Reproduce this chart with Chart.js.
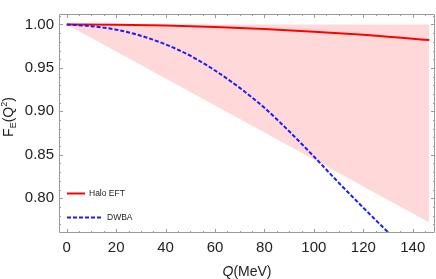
<!DOCTYPE html>
<html lang="en">
<head>
    <title>Form factor</title>
    <script src="https://cdn.jsdelivr.net/npm/chart.js"></script>
    <style>
        html, body { margin: 0; padding: 0; background: #fff; }
        #wrap { width: 436px; height: 279px; }
    </style>
</head>
<body>
<div id="wrap"><canvas id="ffChart"></canvas></div>
<script>
// values
const haloQ = [0, 20, 40, 60, 80, 100, 120, 130, 140, 146.7];
const haloF = [1.000, 0.9997, 0.9987, 0.997, 0.9946, 0.9916, 0.988, 0.9858, 0.9835, 0.982];

const dwbaQ = [0, 10, 20, 30, 40, 50, 60, 70, 80, 90, 100, 110, 120, 130, 133];
const dwbaF = [1.000, 0.998, 0.994, 0.987, 0.977, 0.964, 0.947, 0.927, 0.904, 0.877, 0.848, 0.818, 0.789, 0.761, 0.753];

const bandQ = [0, 146.7];
const bandUpper = [1.0, 1.0];
const bandLower = [1.0, 0.772];

const xTicks = [0, 20, 40, 60, 80, 100, 120, 140];
const yTicks = [0.80, 0.85, 0.90, 0.95, 1.00];

const pts = (xs, ys) => xs.map((x, i) => ({ x: x, y: ys[i] }));

// frame with major + minor ticks on all four sides, plus axis titles and legend
const framePlugin = {
    id: 'frame',
    afterDatasetsDraw(chart) {
        const ctx = chart.ctx;
        const a = chart.chartArea;
        const xs = chart.scales.x, ys = chart.scales.y;
        ctx.save();
        ctx.strokeStyle = '#9a9a9a';
        ctx.lineWidth = 1;
        ctx.beginPath();
        ctx.rect(a.left + 0.5, a.top + 0.5, a.right - a.left - 1, a.bottom - a.top - 1);
        ctx.stroke();
        ctx.beginPath();
        for (let v = 0; v <= 145; v += 5) {
            const px = Math.round(xs.getPixelForValue(v)) + 0.5;
            const len = v % 20 === 0 ? 4 : 2;
            ctx.moveTo(px, a.bottom); ctx.lineTo(px, a.bottom - len);
            ctx.moveTo(px, a.top); ctx.lineTo(px, a.top + len);
        }
        for (let k = 77; k <= 101; k++) {
            const py = Math.round(ys.getPixelForValue(k / 100)) + 0.5;
            const len = k % 5 === 0 ? 4 : 2;
            ctx.moveTo(a.left, py); ctx.lineTo(a.left + len, py);
            ctx.moveTo(a.right, py); ctx.lineTo(a.right - len, py);
        }
        ctx.stroke();

        // axis titles
        ctx.fillStyle = '#222';
        ctx.textBaseline = 'alphabetic';
        ctx.font = 'italic 14px "Liberation Sans", Arial, sans-serif';
        const qW = ctx.measureText('Q').width;
        ctx.font = '14px "Liberation Sans", Arial, sans-serif';
        const restW = ctx.measureText('(MeV)').width;
        let x0 = 247 - (qW + restW) / 2;
        ctx.font = 'italic 14px "Liberation Sans", Arial, sans-serif';
        ctx.fillText('Q', x0, 276);
        ctx.font = '14px "Liberation Sans", Arial, sans-serif';
        ctx.fillText('(MeV)', x0 + qW, 276);

        ctx.save();
        ctx.translate(13, 117);
        ctx.rotate(-Math.PI / 2);
        const parts = [
            ['F', 14, 0], ['E', 9, 3], ['(Q', 14, 0], ['2', 9, -6], [')', 14, 0]
        ];
        let total = 0;
        parts.forEach(p => { ctx.font = p[1] + 'px "Liberation Sans", Arial, sans-serif'; total += ctx.measureText(p[0]).width; });
        let cx = -total / 2;
        parts.forEach(p => {
            ctx.font = p[1] + 'px "Liberation Sans", Arial, sans-serif';
            ctx.fillText(p[0], cx, p[2]);
            cx += ctx.measureText(p[0]).width;
        });
        ctx.restore();

        // legend
        const ds = chart.data.datasets;
        ctx.lineWidth = 2;
        ctx.strokeStyle = ds[2].borderColor;
        ctx.setLineDash([]);
        ctx.beginPath(); ctx.moveTo(67, 193.5); ctx.lineTo(85, 193.5); ctx.stroke();
        ctx.strokeStyle = ds[3].borderColor;
        ctx.setLineDash([4, 2]);
        ctx.beginPath(); ctx.moveTo(67, 217.5); ctx.lineTo(101, 217.5); ctx.stroke();
        ctx.setLineDash([]);
        ctx.font = '8.5px "Liberation Sans", Arial, sans-serif';
        ctx.textBaseline = 'middle';
        ctx.fillStyle = '#222';
        ctx.fillText(ds[2].label, 89, 194);
        ctx.fillText(ds[3].label, 107, 218);
        ctx.restore();
    }
};

const ctx = document.getElementById('ffChart').getContext('2d');
new Chart(ctx, {
    type: 'line',
    data: {
        datasets: [
            {
                label: 'band upper',
                data: pts(bandQ, bandUpper),
                borderWidth: 0,
                pointRadius: 0,
                order: 3,
                fill: false
            },
            {
                label: 'band lower',
                data: pts(bandQ, bandLower),
                borderWidth: 0,
                pointRadius: 0,
                backgroundColor: '#ffd9d9',
                order: 2,
                fill: '-1'
            },
            {
                label: 'Halo EFT',
                data: pts(haloQ, haloF),
                borderColor: '#ff0000',
                borderWidth: 2,
                pointRadius: 0,
                cubicInterpolationMode: 'monotone',
                order: 1,
                fill: false
            },
            {
                label: 'DWBA',
                data: pts(dwbaQ, dwbaF),
                borderColor: '#1a1aff',
                borderWidth: 2,
                borderDash: [4, 2],
                pointRadius: 0,
                cubicInterpolationMode: 'monotone',
                order: 0,
                fill: false
            }
        ]
    },
    options: {
        responsive: true,
        maintainAspectRatio: false,
        animation: false,
        layout: { padding: { top: 1, right: 1, left: 0, bottom: 0 } },
        plugins: {
            legend: { display: false },
            tooltip: { enabled: false }
        },
        scales: {
            x: {
                type: 'linear',
                min: -3.12,
                max: 149.0,
                afterFit: s => { s.height = 46; },
                afterBuildTicks: s => { s.ticks = xTicks.map(v => ({ value: v })); },
                grid: { display: false, drawTicks: false },
                border: { display: false },
                ticks: {
                    padding: 6,
                    maxRotation: 0,
                    autoSkip: false,
                    color: '#222',
                    font: { family: '"Liberation Sans", Arial, sans-serif', size: 15 }
                }
            },
            y: {
                min: 0.76,
                max: 1.012,
                afterFit: s => { s.width = 59; },
                afterBuildTicks: s => { s.ticks = yTicks.map(v => ({ value: v })); },
                grid: { display: false, drawTicks: false },
                border: { display: false },
                ticks: {
                    padding: 5,
                    autoSkip: false,
                    color: '#222',
                    font: { family: '"Liberation Sans", Arial, sans-serif', size: 15 },
                    callback: v => v.toFixed(2)
                }
            }
        }
    },
    plugins: [framePlugin]
});
</script>
</body>
</html>
